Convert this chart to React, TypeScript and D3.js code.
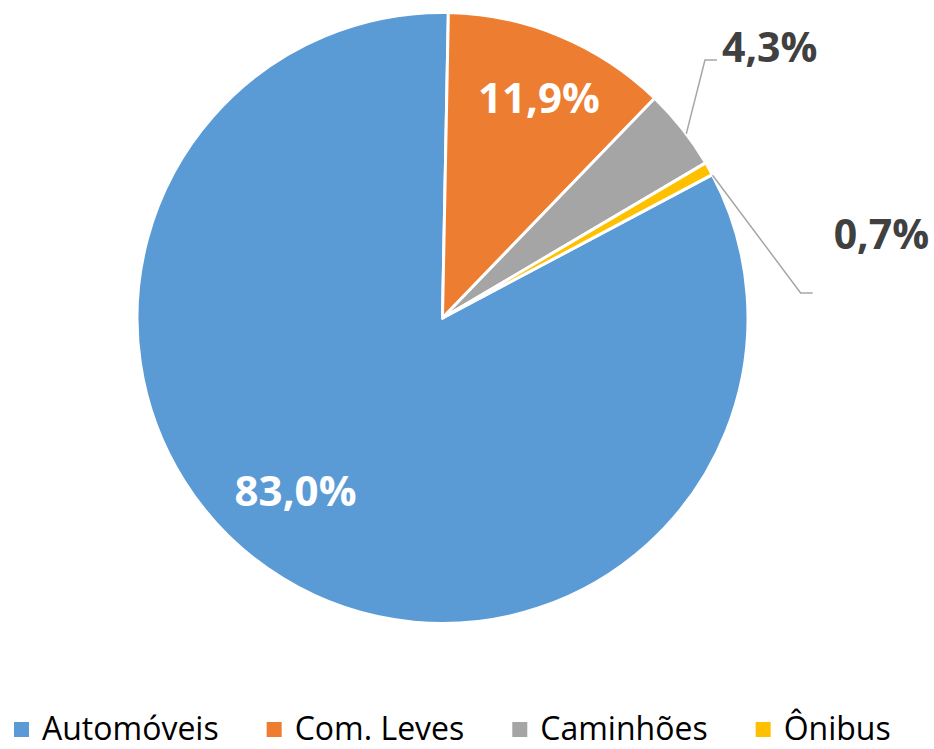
import { useEffect, useRef } from "react";
import * as d3 from "d3";

const categories = ["Automóveis", "Com. Leves", "Caminhões", "Ônibus"];
const shares = [83.0, 11.9, 4.3, 0.7];
const labels = ["83,0%", "11,9%", "4,3%", "0,7%"];
const colors = ["#5B9BD5", "#ED7D31", "#A5A5A5", "#FFC000"];

const W = 934;
const H = 749;

const App = () => {
  const ref = useRef<SVGSVGElement>(null);

  useEffect(() => {
    if (!ref.current) return;
    const svg = d3.select(ref.current);
    svg.selectAll("*").remove();

    const cx = 442.5, cy = 318, r = 305.5;
    const deg = Math.PI / 180;
    const g = svg.append("g").attr("transform", `translate(${cx},${cy})`);

    const pie = d3.pie<number>().sort(null).value(d => d)
      .startAngle(62 * deg).endAngle(62 * deg + 2 * Math.PI);
    const arcs = pie(shares);
    const arc = d3.arc<d3.PieArcDatum<number>>().innerRadius(0).outerRadius(r);

    g.selectAll("path.slice")
      .data(arcs)
      .join("path")
      .attr("class", "slice")
      .attr("d", arc)
      .attr("fill", (_, i) => colors[i])
      .attr("stroke", "#fff")
      .attr("stroke-width", 3)
      .attr("stroke-linejoin", "round");

    const polar = (a: number, rad: number) => [Math.sin(a) * rad, -Math.cos(a) * rad];
    const mid = (d: d3.PieArcDatum<number>) => (d.startAngle + d.endAngle) / 2;

    // inside labels: radius fraction and angular nudge (degrees)
    const inside: Record<number, [number, number]> = { 0: [0.74, 9], 1: [0.79, 1] };
    Object.entries(inside).forEach(([k, [f, da]]) => {
      const i = +k;
      const [x, y] = polar(mid(arcs[i]) + da * deg, r * f);
      g.append("text")
        .attr("x", x).attr("y", y)
        .attr("text-anchor", "middle")
        .attr("dominant-baseline", "central")
        .attr("font-family", "'Open Sans', sans-serif")
        .attr("font-weight", 700)
        .attr("font-size", 42)
        .attr("fill", "#fff")
        .text(labels[i]);
    });

    // outside labels with leader lines: elbow angle (deg), elbow radius, tail length, text dy
    const outside: Record<number, [number, number, number, number]> = {
      2: [45.5, 368, 12, -14],
      3: [86, 359, 12, -60],
    };
    Object.entries(outside).forEach(([k, [ea, er, tail, dy]]) => {
      const i = +k;
      const [x0, y0] = polar(mid(arcs[i]) + (i === 2 ? 1.2 : 1.4) * deg, r);
      const [x1, y1] = polar(ea * deg, er);
      const x2 = x1 + tail;
      g.append("path")
        .attr("d", d3.line()([[x0, y0], [x1, y1], [x2, y1]]))
        .attr("fill", "none")
        .attr("stroke", "#A6A6A6")
        .attr("stroke-width", 1.5);
      g.append("text")
        .attr("x", x2 + (i === 2 ? 5 : 21))
        .attr("y", y1 + dy)
        .attr("dominant-baseline", "central")
        .attr("font-family", "'Open Sans', sans-serif")
        .attr("font-weight", 700)
        .attr("font-size", 41)
        .attr("fill", "#404040")
        .text(labels[i]);
    });

    // legend
    const leg = svg.append("g").attr("transform", `translate(14,${H - 22})`);
    let x = 0;
    categories.forEach((c, i) => {
      leg.append("rect")
        .attr("x", x).attr("y", -5).attr("width", 15).attr("height", 15)
        .attr("fill", colors[i]);
      const t = leg.append("text")
        .attr("x", x + 28).attr("y", 0)
        .attr("dominant-baseline", "central")
        .attr("font-family", "'Open Sans', sans-serif")
        .attr("font-size", 32)
        .attr("fill", "#000")
        .text(c);
      const w = (t.node() as SVGTextElement).getComputedTextLength();
      x += 28 + w + 48;
    });
  }, []);

  return (
    <svg ref={ref} width={W} height={H}
      style={{ position: "absolute", left: 0, top: 0, background: "#fff" }} />
  );
};

export default App;
